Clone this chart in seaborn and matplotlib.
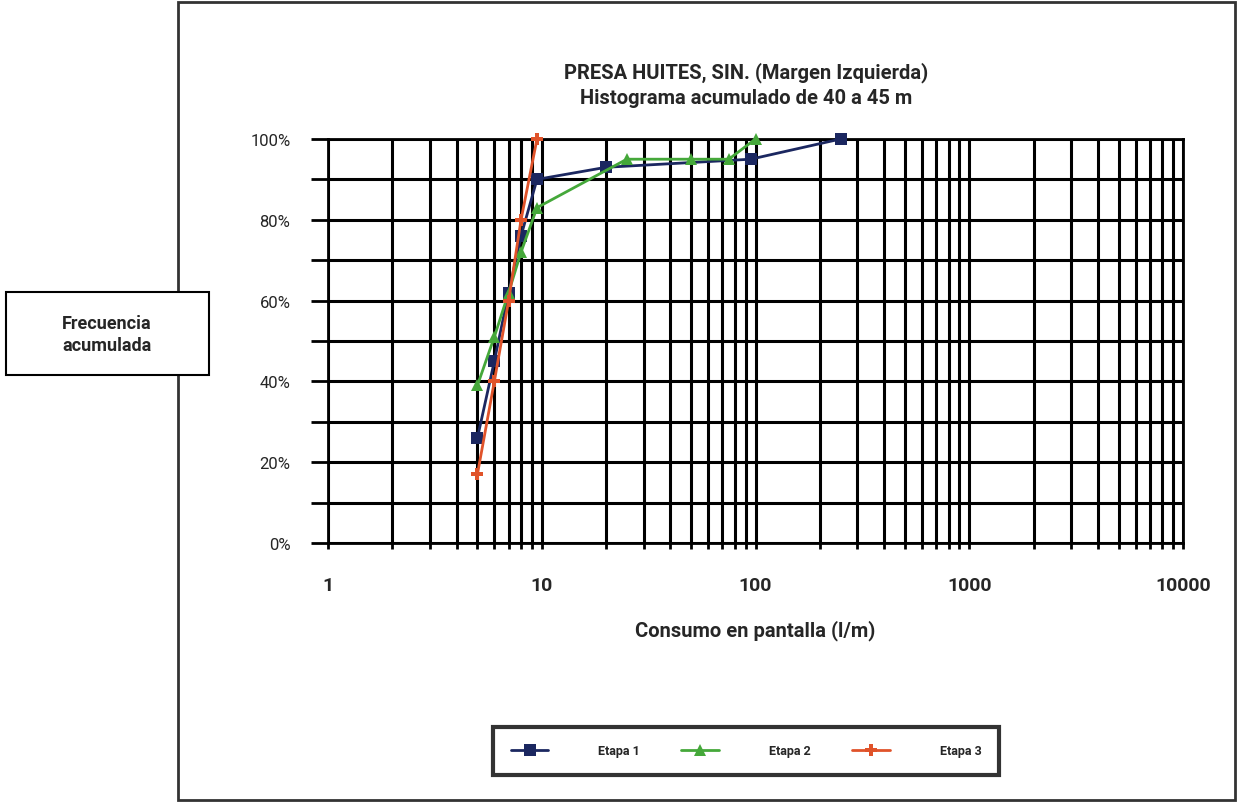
import matplotlib
matplotlib.use("Agg")
import matplotlib.pyplot as plt
import matplotlib.ticker as mticker
from matplotlib.patches import Rectangle
import numpy as np
import pandas as pd
import seaborn as sns

# valores (consumo l/m, frecuencia acumulada %)
etapas = ["Etapa 1", "Etapa 2", "Etapa 3"]
consumo_etapa1 = [5, 6, 7, 8, 9.5, 20, 95, 250]
frec_etapa1 = [26, 45, 62, 76, 90, 93, 95, 100]
consumo_etapa2 = [5, 6, 7, 8, 9.5, 25, 50, 75, 100]
frec_etapa2 = [39, 51, 62, 72, 83, 95, 95, 95, 100]
consumo_etapa3 = [5, 6, 7, 8, 9.5]
frec_etapa3 = [17, 40, 60, 80, 100]

y_ticks = [0, 20, 40, 60, 80, 100]
x_ticks = [1, 10, 100, 1000, 10000]

df = pd.concat([
    pd.DataFrame({"Consumo": consumo_etapa1, "Frecuencia": frec_etapa1, "Etapa": etapas[0]}),
    pd.DataFrame({"Consumo": consumo_etapa2, "Frecuencia": frec_etapa2, "Etapa": etapas[1]}),
    pd.DataFrame({"Consumo": consumo_etapa3, "Frecuencia": frec_etapa3, "Etapa": etapas[2]}),
], ignore_index=True)

sns.set_style("white")
plt.rcParams["font.family"] = ["Roboto", "DejaVu Sans"]

fig = plt.figure(figsize=(12.38, 8.03), dpi=100)
ax = fig.add_axes([328 / 1238, 1 - 544 / 803, (1183 - 328) / 1238, (544 - 140) / 803])

colores = {"Etapa 1": "#1b2760", "Etapa 2": "#45a83a", "Etapa 3": "#e0532a"}
marcadores = {"Etapa 1": "s", "Etapa 2": "^", "Etapa 3": "P"}
sns.lineplot(data=df, x="Consumo", y="Frecuencia", hue="Etapa", style="Etapa",
             palette=colores, markers=marcadores, dashes=False, markersize=9,
             markeredgewidth=0, linewidth=2, sort=False, estimator=None, ax=ax, zorder=5)
for ln in ax.lines:
    ln.set_clip_on(False)

ax.set_xscale("log")
ax.set_xlim(1, 10000)
ax.set_ylim(0, 100)
ax.xaxis.set_major_locator(mticker.FixedLocator(x_ticks))
ax.xaxis.set_minor_locator(mticker.LogLocator(base=10, subs=np.arange(2, 10), numticks=20))
ax.xaxis.set_major_formatter(mticker.FuncFormatter(lambda v, p: f"{v:.0f}"))
ax.xaxis.set_minor_formatter(mticker.NullFormatter())
ax.yaxis.set_major_locator(mticker.FixedLocator(y_ticks))
ax.yaxis.set_minor_locator(mticker.MultipleLocator(10))
ax.yaxis.set_major_formatter(mticker.FuncFormatter(lambda v, p: f"{v:.0f}%"))

ax.grid(which="both", axis="both", color="black", linewidth=2.2)
ax.set_axisbelow(True)
for s in ax.spines.values():
    s.set_color("black")
    s.set_linewidth(2)

ax.tick_params(axis="y", which="both", direction="out", length=12, width=2,
               color="black", labelsize=12, pad=15, left=True)
ax.tick_params(axis="x", which="both", direction="out", length=4, width=2,
               color="black", labelsize=14, pad=20, bottom=True)
for t in ax.get_xticklabels():
    t.set_fontweight("bold")

ax.set_xlabel("Consumo en pantalla (l/m)", fontsize=14.5, fontweight="bold", labelpad=18)
ax.set_ylabel("")

fig.text(0.603, 0.894, "PRESA HUITES, SIN. (Margen Izquierda)\nHistograma acumulado de 40 a 45 m",
         ha="center", va="center", fontsize=14.5, fontweight="bold", linespacing=1.4)

# caja del titulo del eje y
fig.patches.append(Rectangle((6 / 1238, 1 - 376 / 803), 203 / 1238, 83 / 803,
                             transform=fig.transFigure, facecolor="white",
                             edgecolor="black", linewidth=1.5, zorder=3))
fig.text(107 / 1238, 1 - 335 / 803, "Frecuencia\nacumulada", ha="center", va="center",
         fontsize=13, fontweight="bold", linespacing=1.3, zorder=4)

# marco exterior
fig.patches.append(Rectangle((178 / 1238, 2 / 803), 1057 / 1238, 798 / 803,
                             transform=fig.transFigure, facecolor="none",
                             edgecolor="#333333", linewidth=2, zorder=1))

leg = ax.legend(loc="lower left", bbox_to_anchor=(487 / 1238, 1 - 782 / 803, 518 / 1238, 54 / 803),
                bbox_transform=fig.transFigure, mode="expand", ncol=3, fontsize=9,
                handlelength=3, handletextpad=4, borderpad=1.4, frameon=True,
                fancybox=False, title=None)
leg.get_frame().set_edgecolor("black")
leg.get_frame().set_linewidth(3)
for t in leg.get_texts():
    t.set_fontweight("bold")

fig.savefig("out.png", dpi=100, facecolor="white")
